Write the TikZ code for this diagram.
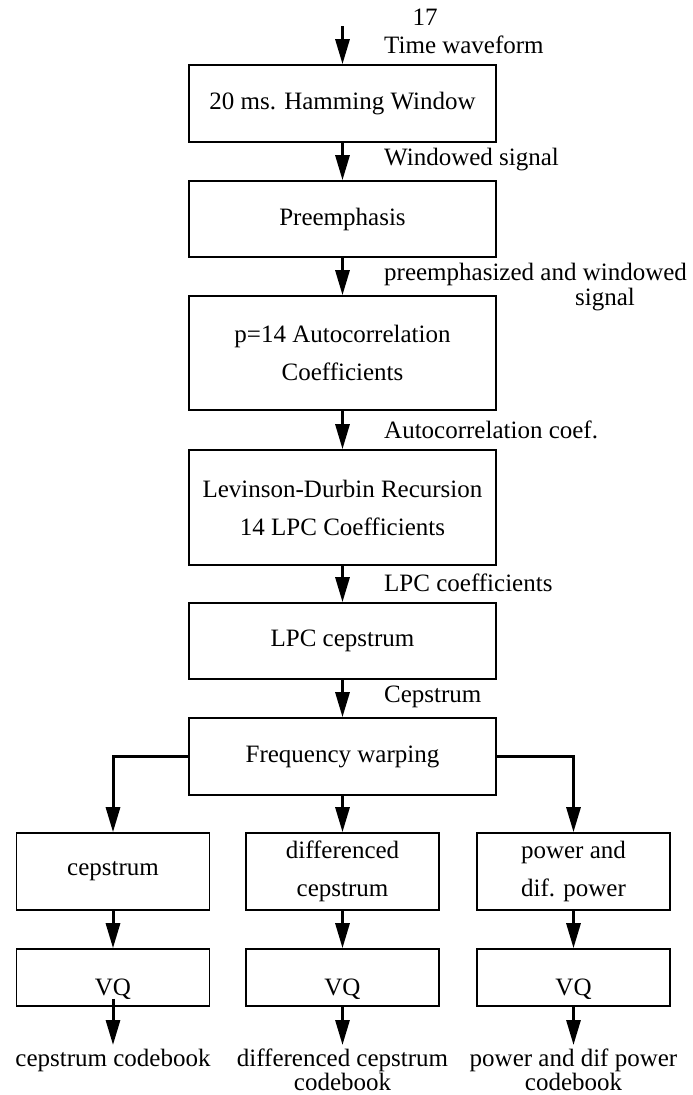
\documentclass[tikz,border=0pt]{standalone}
\usepackage{fontspec}
\setmainfont{Liberation Serif}
\usetikzlibrary{arrows.meta}

\begin{document}
\begin{tikzpicture}[x=1pt, y=-1pt,
    box/.style={draw, line width=1.6pt, align=center, inner sep=0pt,
        font=\fontsize{25}{38}\selectfont},
    mainbox/.style={box, minimum width=307pt, minimum height=#1},
    subbox/.style={box, minimum width=193pt, minimum height=77pt},
    vqbox/.style={box, minimum width=193pt, minimum height=57pt,
        text height=36pt, text depth=0pt},
    flow/.style={line width=3pt, -{Triangle[length=25pt,width=14pt]}},
    lbl/.style={anchor=west, inner sep=0pt, font=\fontsize{25}{25}\selectfont},
    cb/.style={anchor=north, inner sep=4pt, align=center,
        font=\fontsize{25}{17}\selectfont}]
    \useasboundingbox (0,0) rectangle (693,1095);

    % Page number and input
    \node[font=\fontsize{25}{25}\selectfont] (pg) at (425,17) {17};
    \coordinate (in) at (342.5,26);
    \node[lbl] (tw) at (384,45) {Time waveform};

    % Main chain
    \node[mainbox=77pt] (hamm) at (342.5,103.5) {20 ms. Hamming Window};
    \node[mainbox=76pt] (pre) at (342.5,219) {Preemphasis};
    \node[mainbox=114pt] (acor) at (342.5,353) {p=14 Autocorrelation\\Coefficients};
    \node[mainbox=115pt] (lev) at (342.5,507.5) {Levinson-Durbin Recursion\\14 LPC Coefficients};
    \node[mainbox=76pt] (lpcc) at (342.5,641) {LPC cepstrum};
    \node[mainbox=77pt] (warp) at (342.5,756.5) {Frequency warping};

    % Signal labels
    \node[lbl] (ws) at (384,160) {Windowed signal};
    \node[lbl, align=left] (pws) at (384,287) {preemphasized and windowed\\\hspace*{191pt}signal};
    \node[lbl] (ac) at (384,430) {Autocorrelation coef.};
    \node[lbl] (lc) at (384,583) {LPC coefficients};
    \node[lbl] (cs) at (384,697) {Cepstrum};

    \draw[flow] (in) -- (hamm.north);
    \draw[flow] (hamm.south) -- (pre.north);
    \draw[flow] (pre.south) -- (acor.north);
    \draw[flow] (acor.south) -- (lev.north);
    \draw[flow] (lev.south) -- (lpcc.north);
    \draw[flow] (lpcc.south) -- (warp.north);

    % Three branches
    \node[subbox] (cep) at (113,871.5) {cepstrum};
    \node[subbox] (dcep) at (342.5,871.5) {differenced\\cepstrum};
    \node[subbox] (pow) at (573.5,871.5) {power and\\dif. power};

    \node[vqbox] (vqA) at (113,977.5) {VQ};
    \node[vqbox] (vqB) at (342.5,977.5) {VQ};
    \node[vqbox] (vqC) at (573.5,977.5) {VQ};

    \node[cb] (cbA) at (113,1045) {cepstrum codebook};
    \node[cb] (cbB) at (342.5,1045) {differenced cepstrum\\codebook};
    \node[cb] (cbC) at (573.5,1045) {power and dif power\\codebook};

    \draw[flow] (warp.west) -| (cep.north);
    \draw[flow] (warp.south) -- (dcep.north);
    \draw[flow] (warp.east) -| (pow.north);

    \draw[flow] (cep.south) -- (vqA.north);
    \draw[flow] (dcep.south) -- (vqB.north);
    \draw[flow] (pow.south) -- (vqC.north);

    \draw[flow] ([yshift=8pt]vqA.south) -- (cbA.north);
    \draw[flow] (vqB.south) -- (cbB.north);
    \draw[flow] (vqC.south) -- (cbC.north);
\end{tikzpicture}
\end{document}
